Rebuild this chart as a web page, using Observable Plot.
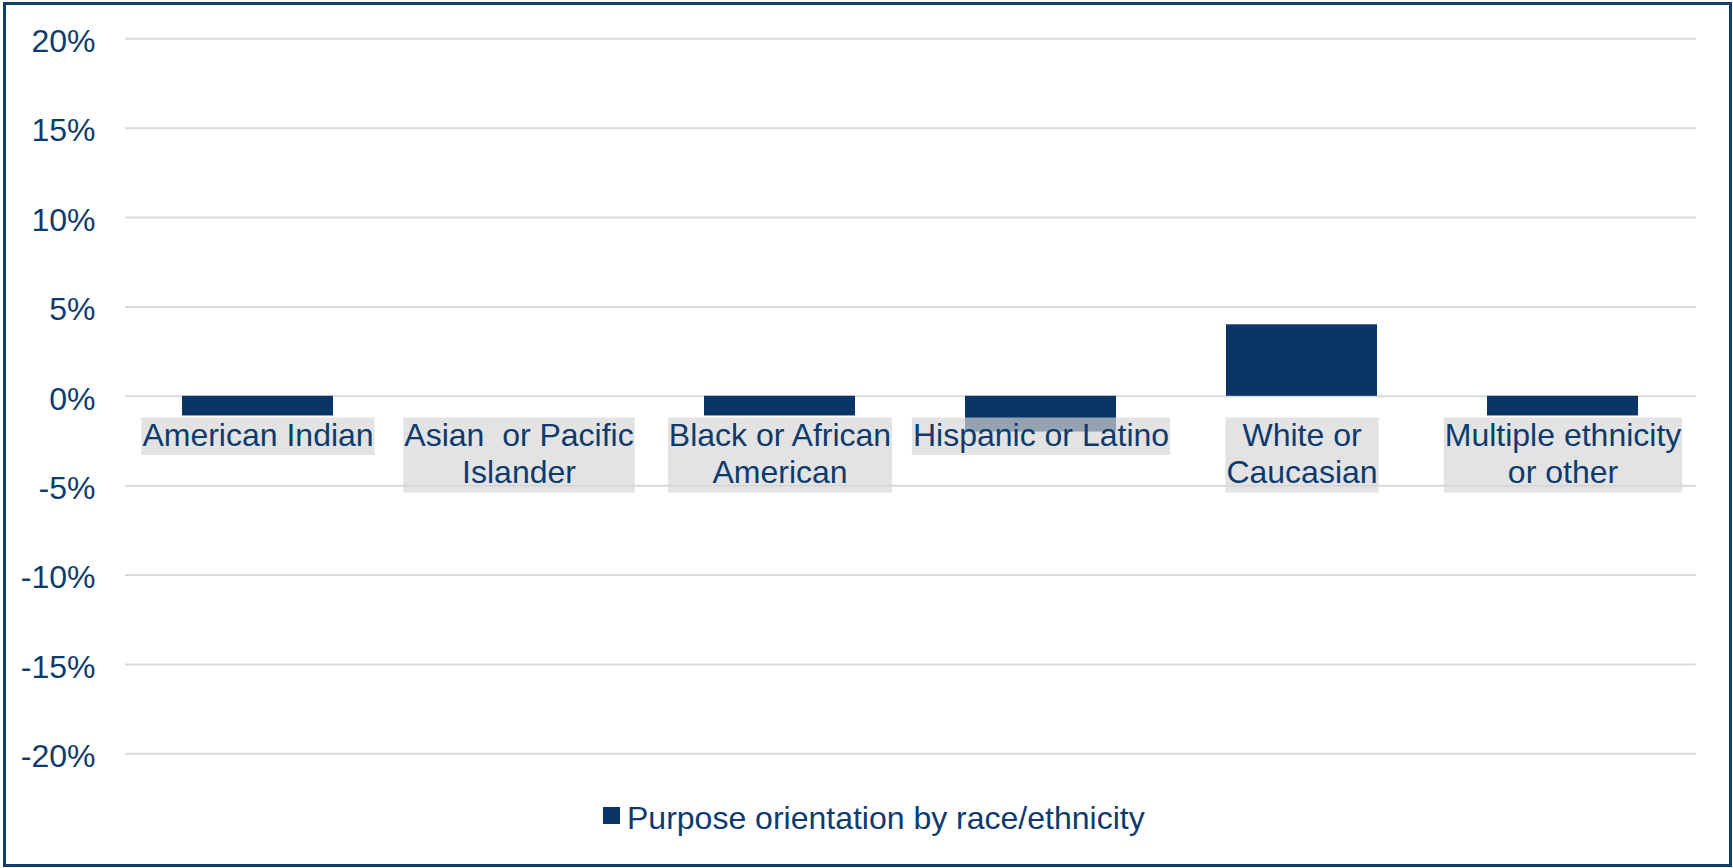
<!DOCTYPE html>
<html>
<head>
<meta charset="utf-8">
<script src="https://cdn.jsdelivr.net/npm/d3@7"></script>
<script src="https://cdn.jsdelivr.net/npm/@observablehq/plot@0.6"></script>
<style>
  html, body { margin: 0; padding: 0; background: #ffffff; }
  body { width: 1733px; height: 868px; position: relative; overflow: hidden; }
  #chart { position: absolute; left: 0; top: 0; }
  #frame { position: absolute; left: 3px; top: 2px; width: 1729px; height: 865px; box-sizing: border-box; border: 3px solid #123c6c; pointer-events: none; }
  #legend-swatch { position: absolute; left: 603px; top: 807px; width: 17px; height: 17px; background: #0a3566; }
  #legend-text { position: absolute; left: 627px; top: 802px; font-family: "Liberation Sans", Arial, sans-serif; font-size: 32px; line-height: 32px; color: #0d3b6e; white-space: nowrap; }
  g[aria-label="text"] text { white-space: pre; }
</style>
</head>
<body>
<div id="chart"></div>
<div id="legend-swatch"></div>
<div id="legend-text"></div>
<div id="frame"></div>
<script>
// ---- Data ----
const categories = [
  "American Indian",
  "Asian or Pacific Islander",
  "Black or African American",
  "Hispanic or Latino",
  "White or Caucasian",
  "Multiple ethnicity or other"
];
const categoryLabels = [
  "American Indian",
  "Asian  or Pacific\nIslander",
  "Black or African\nAmerican",
  "Hispanic or Latino",
  "White or\nCaucasian",
  "Multiple ethnicity\nor other"
];
const values = [-1.1, 0, -1.1, -2.0, 4.0, -1.1]; // percent
const yTicks = [-20, -15, -10, -5, 0, 5, 10, 15, 20];
const seriesName = "Purpose orientation by race/ethnicity";

const navy = "#0a3566";
const textColor = "#0d3b6e";

const data = categories.map((c, i) => ({category: c, label: categoryLabels[i], value: values[i]}));

const chart = Plot.plot({
  width: 1733,
  height: 780,
  marginTop: 38.3,
  marginBottom: 26.7,
  marginLeft: 125,
  marginRight: 37.3,
  style: {
    fontFamily: '"Liberation Sans", Arial, sans-serif',
    fontSize: "32px",
    color: textColor,
    background: "transparent",
    overflow: "visible"
  },
  x: {domain: categories, paddingInner: 0.42, paddingOuter: 0.21, axis: null},
  y: {domain: [-20, 20]},
  marks: [
    Plot.ruleY(yTicks, {stroke: "#d9d9d9", strokeWidth: 2}),
    Plot.axisY(yTicks, {
      tickSize: 0,
      tickPadding: 30,
      tickFormat: d => d + "%",
      fontSize: 32,
      fill: textColor,
      dy: 3,
      label: null
    }),
    Plot.barY(data, {x: "category", y: "value", fill: navy}),
    Plot.text(data, {
      x: "category",
      y: () => 0,
      text: "label",
      lineAnchor: "top",
      lineHeight: 1.175,
      dy: 22.5,
      fontSize: 32,
      fill: textColor,
      textAnchor: "middle"
    })
  ]
});

document.getElementById("chart").append(chart);
document.getElementById("legend-text").textContent = seriesName;

// Label background boxes (sized to each rendered category label)
const ns = "http://www.w3.org/2000/svg";
chart.querySelectorAll('g[aria-label="text"] text').forEach(t => {
  const b = t.getBBox();
  const r = document.createElementNS(ns, "rect");
  r.setAttribute("x", b.x - 1);
  r.setAttribute("y", b.y + 1);
  r.setAttribute("width", b.width + 2);
  r.setAttribute("height", b.height + 1.5);
  r.setAttribute("fill", "rgb(214,214,214)");
  r.setAttribute("fill-opacity", "0.68");
  const tr = t.getAttribute("transform");
  if (tr) r.setAttribute("transform", tr);
  t.parentNode.insertBefore(r, t);
});
</script>
</body>
</html>
